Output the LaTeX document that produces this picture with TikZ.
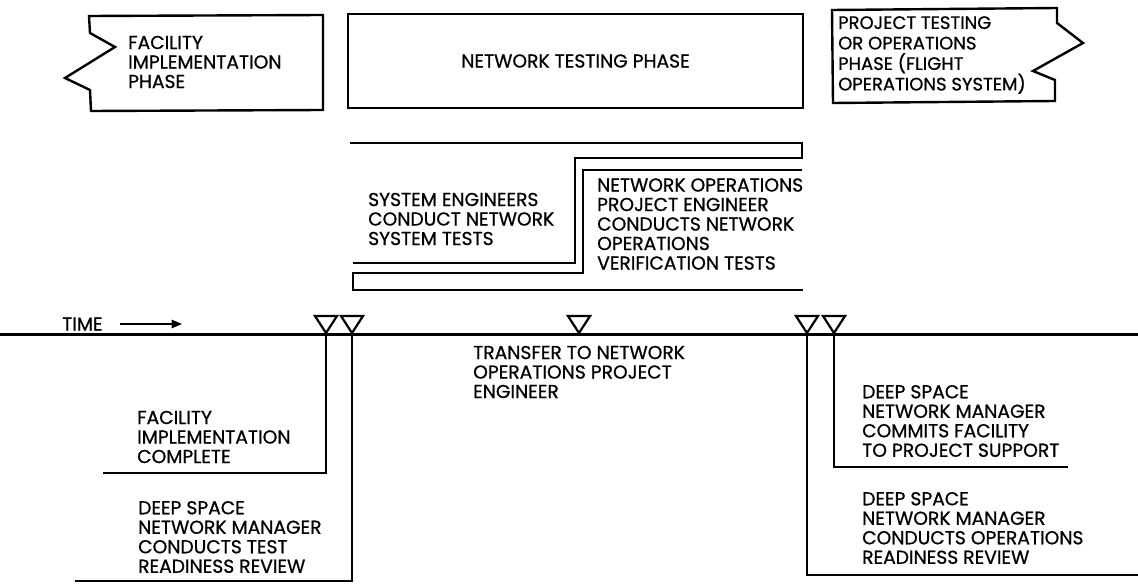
\documentclass[tikz,border=0pt]{standalone}
\usepackage{fontspec}
\setmainfont{Poppins}[FakeBold=0.8]
\usetikzlibrary{shapes.geometric, arrows, positioning, calc}

\begin{document}
\begin{tikzpicture}[
    x=1pt, y=-1pt,
    lbl/.style={align=left, inner sep=0pt, anchor=west, font=\fontsize{18.7}{19.5}\selectfont},
    outline/.style={line width=2.4pt, line join=miter},
    lead/.style={line width=2.2pt},
    marker/.style={isosceles triangle, isosceles triangle apex angle=66, shape border rotate=-90,
        draw, line width=2.2pt, inner sep=0pt, minimum height=17pt, anchor=apex},
    >=stealth
  ]
  \useasboundingbox (0,0) rectangle (1138,585);

  % phase boxes
  \node (fip) [lbl] at (128,62) {FACILITY\\IMPLEMENTATION\\PHASE};
  \draw[outline] (89,16) -- (323,15) -- (323,110) -- (91,111) -- (90,90) -- (65,78) -- (115,47) -- (90,33) -- cycle;
  \node (ntp) [draw, outline, minimum width=455pt, minimum height=94pt, inner sep=0pt,
      font=\fontsize{18.7}{19.5}\selectfont] at (575.5,61) {NETWORK TESTING PHASE};
  \node (ptp) [lbl, font=\fontsize{18}{20.5}\selectfont] at (838,55) {PROJECT TESTING\\OR OPERATIONS\\PHASE (FLIGHT\\OPERATIONS SYSTEM)};
  \draw[outline] (832,10) -- (1057,8) -- (1057,23) -- (1083,43) -- (1033,71) -- (1055,80) -- (1055,101) -- (833,103) -- cycle;

  % test brackets
  \draw[outline] (350,143) -- (802,143) -- (802,158) -- (575,158) -- (575,263) -- (353,263);
  \draw[outline] (802,170) -- (583,170) -- (583,273) -- (353,273) -- (353,290) -- (803,290);
  \node (sys) [lbl] at (368,219) {SYSTEM ENGINEERS\\CONDUCT NETWORK\\SYSTEM TESTS};
  \node (nop) [lbl] at (597,224) {NETWORK OPERATIONS\\PROJECT ENGINEER\\CONDUCTS NETWORK\\OPERATIONS\\VERIFICATION TESTS};

  % time line
  \coordinate (t0) at (0,335);
  \coordinate (t1) at (1138,335);
  \draw[line width=3pt] (t0) -- (t1);
  \node (time) [lbl] at (62,324) {TIME};
  \coordinate (tarr) at (182,324);
  \draw[-triangle 45, line width=1.4pt] ([xshift=17pt]time.east) -- (tarr);

  % milestones
  \node (m1) [marker] at (326,335) {};
  \node (m2) [marker] at (352,335) {};
  \node (m3) [marker] at (579,335) {};
  \node (m4) [marker] at (807,335) {};
  \node (m5) [marker] at (834,335) {};

  \coordinate (e1) at (103,473);
  \coordinate (e2) at (75,581);
  \coordinate (e4) at (1138,575);
  \coordinate (e5) at (1068,467);
  \draw[lead] (m1.apex) |- (e1);
  \draw[lead] (m2.apex) |- (e2);
  \draw[lead] (m4.apex) |- (e4);
  \draw[lead] (m5.apex) |- (e5);

  \node (tr) [lbl] at (473,372) {TRANSFER TO NETWORK\\OPERATIONS PROJECT\\ENGINEER};
  \node (fic) [lbl] at (137,437) {FACILITY\\IMPLEMENTATION\\COMPLETE};
  \node (dtr) [lbl] at (138,537) {DEEP SPACE\\NETWORK MANAGER\\CONDUCTS TEST\\READINESS REVIEW};
  \node (dcf) [lbl] at (862,421) {DEEP SPACE\\NETWORK MANAGER\\COMMITS FACILITY\\TO PROJECT SUPPORT};
  \node (dor) [lbl] at (862,528) {DEEP SPACE\\NETWORK MANAGER\\CONDUCTS OPERATIONS\\READINESS REVIEW};
\end{tikzpicture}
\end{document}
